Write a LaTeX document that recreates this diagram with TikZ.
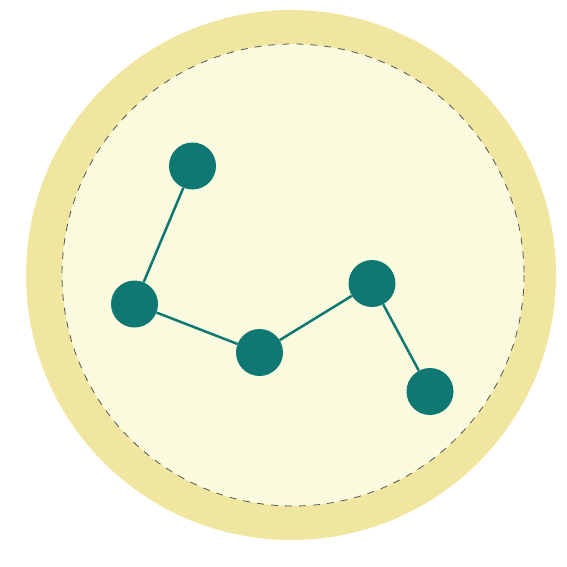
\documentclass[tikz,border=0pt]{standalone}
\definecolor{outerc}{HTML}{F0E6A0}
\definecolor{innerc}{HTML}{FAFADF}
\definecolor{teal}{HTML}{107873}
\definecolor{dashc}{HTML}{555555}
\tikzset{
  dot/.style={circle, fill=teal, minimum size=47pt, inner sep=0pt},
  link/.style={draw=teal, line width=2.5pt}
}
\begin{document}
\begin{tikzpicture}[x=1pt,y=-1pt]
\useasboundingbox (0,0) rectangle (567,567);
\fill[outerc] (291,275) circle (265);
\fill[innerc] (293,275) circle (231);
\draw[dashc, line width=0.8pt, dash pattern=on 7pt off 7pt] (293,275) circle (231);
\node[dot] (a) at (192.5,166) {};
\node[dot] (b) at (134.5,304) {};
\node[dot] (c) at (259.5,352.5) {};
\node[dot] (d) at (372,283.5) {};
\node[dot] (e) at (430,391.5) {};
\draw[link] (a) -- (b);
\draw[link] (b) -- (c);
\draw[link] (c) -- (d);
\draw[link] (d) -- (e);
\end{tikzpicture}
\end{document}
